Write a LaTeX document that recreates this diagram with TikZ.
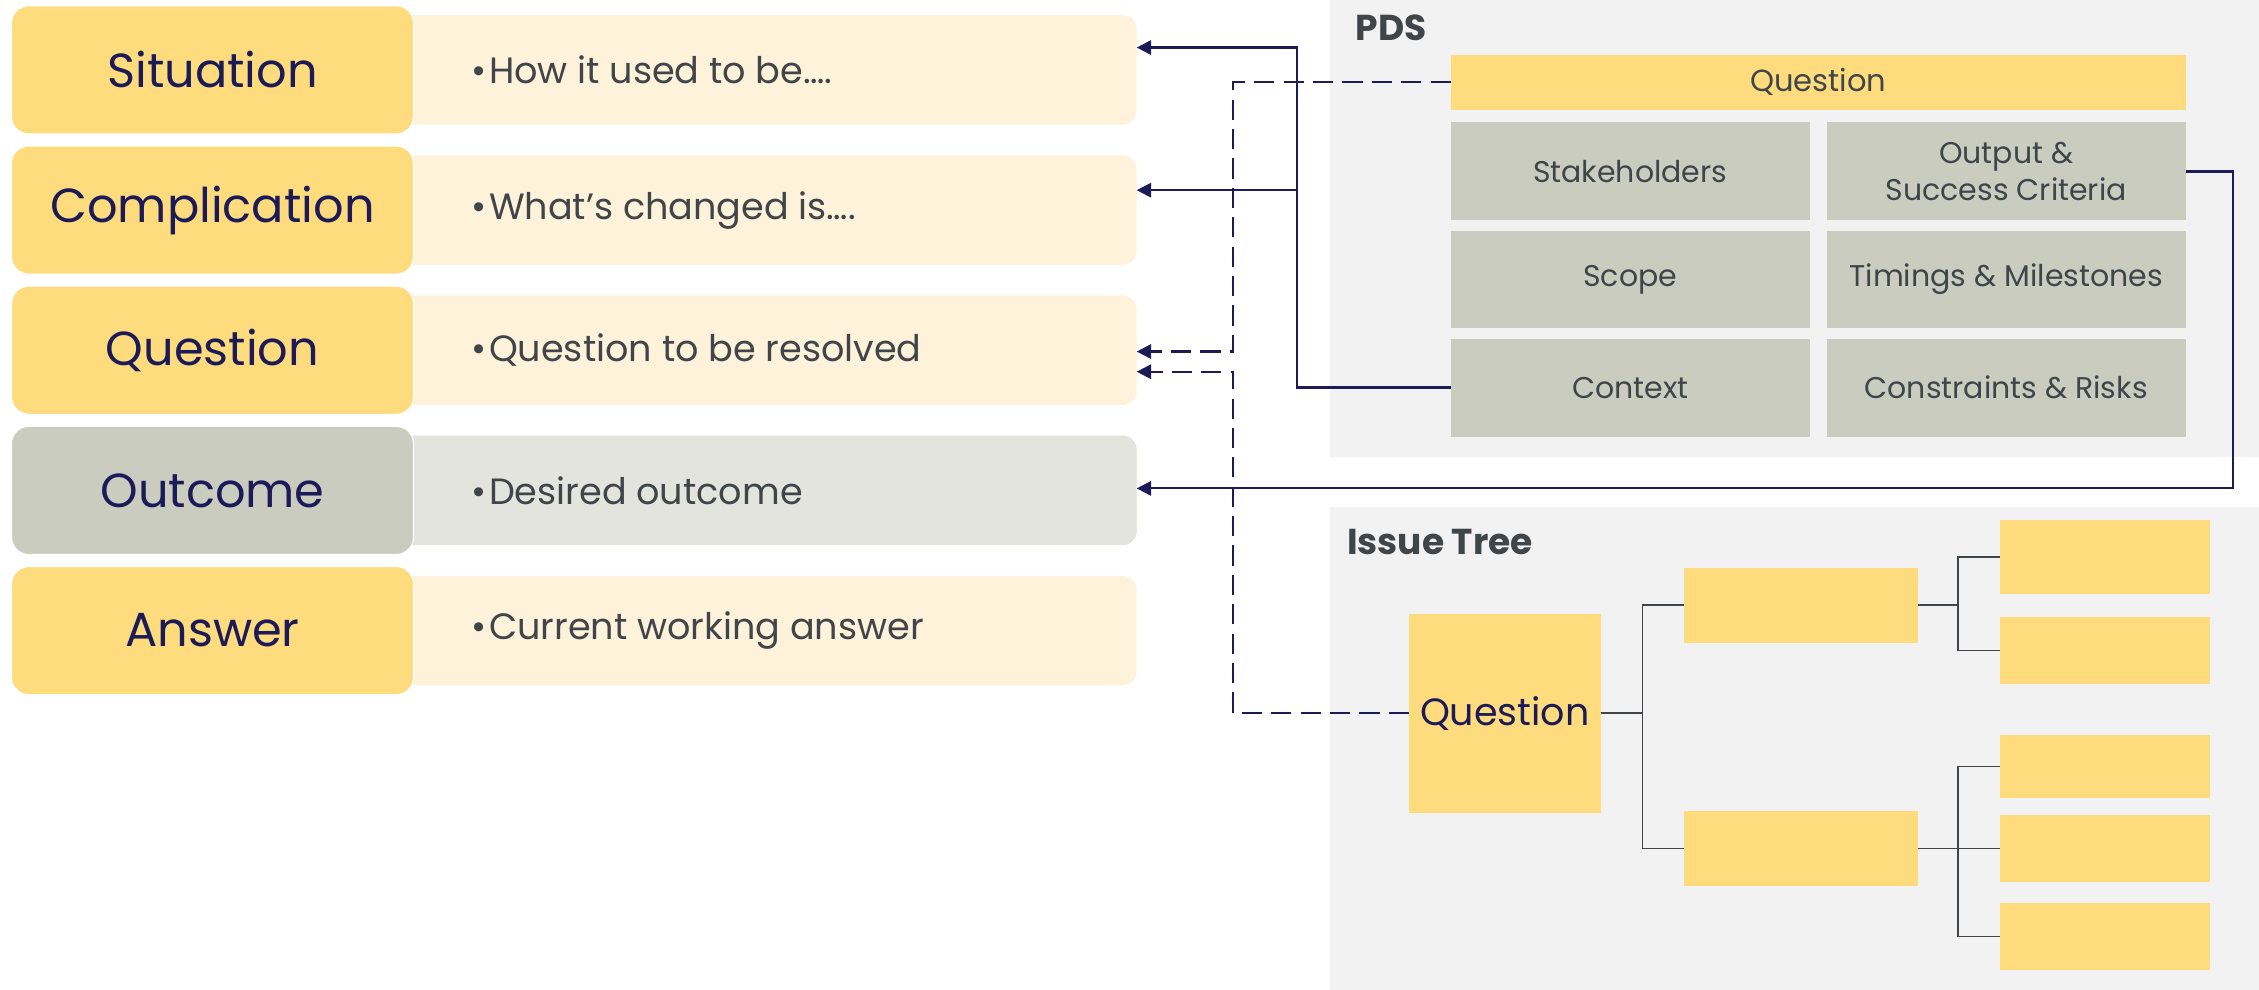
\documentclass[tikz,border=0pt]{standalone}
\usepackage{fontspec}
\setmainfont{Poppins}
\usetikzlibrary{arrows.meta}
\definecolor{gold}{HTML}{FEDC7E}
\definecolor{goldpale}{HTML}{FEF2DA}
\definecolor{sage}{HTML}{CBCCC0}
\definecolor{sagepale}{HTML}{E3E4DE}
\definecolor{panel}{HTML}{F2F2F2}
\definecolor{navy}{HTML}{1C1B58}
\definecolor{slate}{HTML}{3F4549}
\begin{document}
\begin{tikzpicture}[x=0.5pt,y=-0.5pt,
  every node/.style={inner sep=0pt,outer sep=0pt},
  labelbox/.style={fill=gold,draw=white,line width=0.4pt,rounded corners=6pt,
    minimum width=139.5pt,minimum height=44.5pt,text=navy,
    font=\fontsize{16.6}{20}\selectfont},
  notebox/.style={fill=goldpale,rounded corners=5pt,
    minimum width=259.5pt,minimum height=38pt},
  notetext/.style={anchor=west,text=slate,font=\fontsize{12.7}{15}\selectfont},
  cell/.style={fill=sage,minimum width=124.5pt,minimum height=34pt,text=slate,
    align=center,font=\fontsize{10.4}{13}\selectfont},
  leaf/.style={fill=gold,minimum width=73pt},
  branch/.style={fill=gold,minimum width=81pt,minimum height=26pt},
  paneltitle/.style={anchor=west,text=slate,font=\fontsize{12.5}{15}\selectfont\bfseries},
  link/.style={draw=navy,line width=0.75pt,-{Triangle[length=5pt,width=5pt]}},
  dlink/.style={link,dash pattern=on 7pt off 3.2pt},
  twig/.style={draw=slate,line width=0.55pt}]
\useasboundingbox (0,0) rectangle (1568,687);

% panels on the right
\fill[panel] (923,0) rectangle (1568,317);
\fill[panel] (923,352) rectangle (1568,687);
\node[paneltitle] (pdsT) at (941,19) {PDS};
\node[paneltitle] (itT) at (935,376) {Issue Tree};

% SCQOA column: notes first, labels on top
\foreach \n/\y in {sit/48.5,com/145.8,que/243.1,out/340.4,ans/437.7}
  \node[notebox] (\n N) at (529.5,\y) {};
\node[notebox,fill=sagepale] at (outN) {};
\node[labelbox] (sit) at (147.5,48.5) {Situation};
\node[labelbox] (com) at (147.5,145.8) {Complication};
\node[labelbox] (que) at (147.5,243.1) {Question};
\node[labelbox,fill=sage] (outc) at (147.5,340.4) {Outcome};
\node[labelbox] (ans) at (147.5,437.7) {Answer};
\node[notetext] (sitT) at (327,48.5) {•\hspace{1pt}How it used to be….};
\node[notetext] (comT) at (327,145.8) {•\hspace{1pt}What’s changed is….};
\node[notetext] (queT) at (327,243.1) {•\hspace{1pt}Question to be resolved};
\node[notetext] (outT) at (327,340.4) {•\hspace{1pt}Desired outcome};
\node[notetext] (ansT) at (327,437.7) {•\hspace{1pt}Current working answer};

% PDS grid
\node[fill=gold,minimum width=255pt,minimum height=19pt,text=slate,
  font=\fontsize{10.6}{13}\selectfont] (pq) at (1262,57) {Question};
\node[cell] (stk) at (1131.5,119) {Stakeholders};
\node[cell] (osc) at (1392.5,119) {Output \&\\Success Criteria};
\node[cell] (scp) at (1131.5,194) {Scope};
\node[cell] (tim) at (1392.5,194) {Timings \& Milestones};
\node[cell] (ctx) at (1131.5,269) {Context};
\node[cell] (con) at (1392.5,269) {Constraints \& Risks};

% issue tree
\node[fill=gold,minimum width=66.5pt,minimum height=69pt,text=navy,
  font=\fontsize{13.2}{16}\selectfont] (root) at (1044.5,495) {Question};
\node[branch] (m1) at (1250,420) {};
\node[branch] (m2) at (1250,589) {};
\node[leaf,minimum height=25.5pt] (l1) at (1461,386.5) {};
\node[leaf,minimum height=23.5pt] (l2) at (1461,451.5) {};
\node[leaf,minimum height=22pt] (l3) at (1461,532) {};
\node[leaf,minimum height=23pt] (l4) at (1461,589) {};
\node[leaf,minimum height=23pt] (l5) at (1461,650) {};
\coordinate (t0) at (1140,495);
\coordinate (t1) at (1359,420);
\coordinate (t2) at (1359,589);
\draw[twig] (root.east) -- (t0) |- (m1.west);
\draw[twig] (t0) |- (m2.west);
\draw[twig] (m1.east) -- (t1) |- (l1.west);
\draw[twig] (t1) |- (l2.west);
\draw[twig] (m2.east) -- (t2) |- (l3.west);
\draw[twig] (t2) |- (l5.west);
\draw[twig] (t2) -- (l4.west);

% links back to the notes
\coordinate (ja) at (900,33);
\coordinate (jb) at (900,132);
\coordinate (jc) at (1550,339);
\coordinate (jd) at (856,244);
\coordinate (je) at (856,258);
\draw[link] (ctx.west) -| (ja) -- (sitN.east |- ja);
\draw[link] (jb) -- (comN.east |- jb);
\draw[link] (osc.east) -| (jc) -- (outN.east |- jc);
\draw[dlink] (pq.west) -| (jd) -- (queN.east |- jd);
\draw[dlink] (root.west) -| (je) -- (queN.east |- je);
\end{tikzpicture}
\end{document}
